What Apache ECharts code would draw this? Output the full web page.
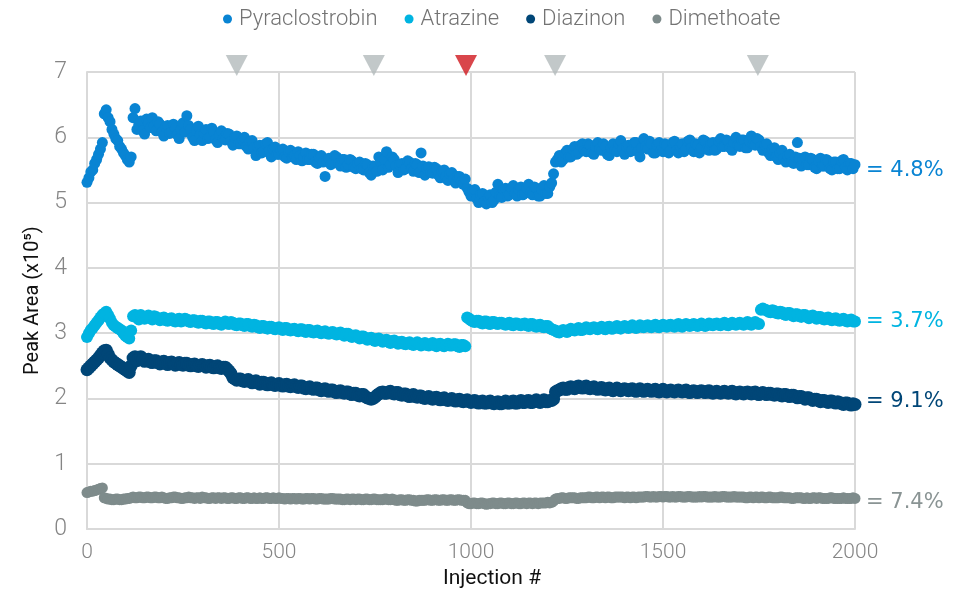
<!DOCTYPE html>
<html>
<head>
<meta charset="utf-8">
<script src="https://cdn.jsdelivr.net/npm/echarts@6/dist/echarts.min.js"></script>
<style>
  html, body { margin: 0; padding: 0; background: #ffffff; }
  #chart { width: 979px; height: 594px; }
</style>
</head>
<body>
<div id="chart"></div>
<script>
// Peak areas (x10^5), one reading every 5 injections, injection 0 .. 2000
const injectionStep = 5;

const pyraclostrobin = [
  5.31, 5.38, 5.47, 5.50, 5.60, 5.66, 5.74, 5.82, 5.92, 6.36, 6.42, 6.30, 6.24, 6.12, 6.05, 5.98, 5.95, 5.86, 5.82, 5.76,
  5.72, 5.66, 5.62, 5.70, 6.30, 6.44, 6.12, 6.20, 6.25, 6.10, 6.05, 6.28, 6.22, 6.15, 6.30, 6.18, 6.10, 6.24, 6.20, 6.08,
  6.02, 6.16, 6.18, 6.06, 6.08, 6.20, 6.14, 6.04, 5.98, 6.12, 6.22, 6.08, 6.33, 6.18, 6.12, 6.00, 5.95, 6.10, 6.17, 6.04,
  5.95, 6.06, 6.12, 5.98, 6.00, 6.14, 6.08, 5.96, 5.92, 6.04, 6.10, 5.98, 5.96, 6.06, 6.05, 5.94, 5.88, 6.00, 6.02, 5.90,
  5.90, 5.96, 6.00, 5.86, 5.82, 5.94, 5.95, 5.84, 5.72, 5.86, 5.88, 5.76, 5.78, 5.90, 5.92, 5.80, 5.70, 5.82, 5.85, 5.74,
  5.74, 5.80, 5.82, 5.70, 5.68, 5.78, 5.80, 5.70, 5.72, 5.66, 5.78, 5.72, 5.64, 5.70, 5.76, 5.66, 5.66, 5.74, 5.74, 5.62,
  5.60, 5.70, 5.72, 5.62, 5.40, 5.64, 5.68, 5.58, 5.62, 5.72, 5.70, 5.60, 5.56, 5.66, 5.66, 5.54, 5.58, 5.66, 5.64, 5.54,
  5.52, 5.60, 5.62, 5.52, 5.50, 5.60, 5.58, 5.46, 5.42, 5.56, 5.55, 5.48, 5.70, 5.62, 5.50, 5.66, 5.78, 5.54, 5.58, 5.70,
  5.66, 5.56, 5.46, 5.58, 5.60, 5.50, 5.52, 5.64, 5.62, 5.52, 5.48, 5.60, 5.58, 5.46, 5.76, 5.56, 5.42, 5.52, 5.55, 5.46,
  5.45, 5.54, 5.52, 5.42, 5.38, 5.48, 5.50, 5.40, 5.34, 5.44, 5.46, 5.36, 5.30, 5.40, 5.40, 5.32, 5.28, 5.36, 5.22, 5.16,
  5.10, 5.18, 5.20, 5.06, 5.00, 5.12, 5.14, 5.02, 4.98, 5.08, 5.12, 5.00, 5.04, 5.16, 5.28, 5.10, 5.08, 5.20, 5.22, 5.10,
  5.12, 5.22, 5.26, 5.14, 5.10, 5.20, 5.24, 5.12, 5.14, 5.22, 5.28, 5.16, 5.12, 5.24, 5.22, 5.10, 5.10, 5.20, 5.26, 5.14,
  5.14, 5.24, 5.30, 5.44, 5.62, 5.66, 5.72, 5.62, 5.66, 5.76, 5.80, 5.70, 5.70, 5.82, 5.86, 5.74, 5.76, 5.88, 5.90, 5.80,
  5.78, 5.90, 5.88, 5.76, 5.74, 5.86, 5.92, 5.82, 5.80, 5.90, 5.86, 5.74, 5.72, 5.84, 5.90, 5.80, 5.78, 5.90, 5.95, 5.82,
  5.74, 5.86, 5.88, 5.78, 5.80, 5.92, 5.92, 5.78, 5.70, 5.84, 5.98, 5.86, 5.82, 5.94, 5.90, 5.76, 5.76, 5.88, 5.92, 5.80,
  5.78, 5.90, 5.88, 5.76, 5.80, 5.92, 5.94, 5.80, 5.76, 5.86, 5.90, 5.78, 5.82, 5.94, 5.96, 5.84, 5.78, 5.90, 5.88, 5.76,
  5.84, 5.96, 5.94, 5.82, 5.80, 5.90, 5.92, 5.80, 5.82, 5.94, 5.98, 5.86, 5.86, 5.96, 5.94, 5.84, 5.80, 5.92, 6.00, 5.88,
  5.86, 5.96, 5.96, 5.84, 5.84, 5.94, 6.02, 5.90, 5.88, 5.98, 5.96, 5.86, 5.80, 5.88, 5.90, 5.76, 5.72, 5.82, 5.84, 5.70,
  5.66, 5.76, 5.80, 5.68, 5.62, 5.72, 5.74, 5.62, 5.60, 5.70, 5.92, 5.68, 5.56, 5.66, 5.70, 5.58, 5.58, 5.68, 5.66, 5.54,
  5.52, 5.64, 5.68, 5.56, 5.56, 5.66, 5.64, 5.52, 5.50, 5.62, 5.62, 5.52, 5.52, 5.64, 5.66, 5.54, 5.50, 5.60, 5.60, 5.52,
  5.58
];

const atrazine = [
  2.94, 3.00, 3.05, 3.08, 3.12, 3.16, 3.20, 3.24, 3.28, 3.30, 3.33, 3.28, 3.22, 3.16, 3.12, 3.10, 3.08, 3.06, 3.04, 3.00,
  2.96, 2.94, 2.92, 3.04, 3.26, 3.28, 3.24, 3.21, 3.28, 3.24, 3.22, 3.25, 3.27, 3.23, 3.21, 3.26, 3.25, 3.22, 3.20, 3.23,
  3.24, 3.20, 3.19, 3.22, 3.23, 3.19, 3.18, 3.21, 3.22, 3.18, 3.19, 3.22, 3.21, 3.18, 3.17, 3.20, 3.20, 3.17, 3.16, 3.19,
  3.19, 3.16, 3.15, 3.18, 3.18, 3.15, 3.14, 3.17, 3.17, 3.14, 3.13, 3.16, 3.18, 3.15, 3.14, 3.17, 3.16, 3.13, 3.12, 3.15,
  3.15, 3.12, 3.11, 3.14, 3.14, 3.11, 3.10, 3.13, 3.12, 3.09, 3.08, 3.11, 3.11, 3.08, 3.07, 3.10, 3.10, 3.07, 3.06, 3.08,
  3.09, 3.06, 3.05, 3.08, 3.08, 3.05, 3.04, 3.06, 3.07, 3.04, 3.03, 3.06, 3.06, 3.03, 3.02, 3.05, 3.05, 3.02, 3.01, 3.03,
  3.04, 3.01, 3.00, 3.02, 3.03, 3.00, 2.99, 3.01, 3.02, 2.99, 2.98, 3.00, 3.01, 2.98, 2.96, 2.99, 2.99, 2.96, 2.94, 2.96,
  2.97, 2.94, 2.92, 2.95, 2.95, 2.92, 2.90, 2.92, 2.93, 2.90, 2.88, 2.91, 2.92, 2.89, 2.87, 2.89, 2.90, 2.87, 2.85, 2.88,
  2.89, 2.86, 2.84, 2.86, 2.87, 2.84, 2.83, 2.85, 2.86, 2.83, 2.82, 2.84, 2.86, 2.83, 2.81, 2.83, 2.85, 2.82, 2.81, 2.83,
  2.85, 2.82, 2.80, 2.83, 2.84, 2.81, 2.80, 2.82, 2.84, 2.81, 2.81, 2.83, 2.83, 2.80, 2.79, 2.82, 2.82, 2.80, 3.24, 3.22,
  3.20, 3.18, 3.17, 3.19, 3.19, 3.16, 3.15, 3.18, 3.18, 3.15, 3.14, 3.17, 3.17, 3.15, 3.14, 3.16, 3.16, 3.14, 3.13, 3.15,
  3.16, 3.13, 3.12, 3.15, 3.15, 3.13, 3.12, 3.14, 3.15, 3.12, 3.11, 3.14, 3.14, 3.11, 3.10, 3.12, 3.13, 3.10, 3.09, 3.11,
  3.11, 3.08, 3.06, 3.05, 3.04, 3.02, 3.01, 3.03, 3.05, 3.03, 3.02, 3.05, 3.07, 3.05, 3.04, 3.06, 3.08, 3.05, 3.05, 3.07,
  3.09, 3.07, 3.06, 3.08, 3.09, 3.07, 3.06, 3.08, 3.10, 3.07, 3.06, 3.09, 3.10, 3.07, 3.07, 3.09, 3.11, 3.08, 3.07, 3.09,
  3.11, 3.09, 3.08, 3.10, 3.12, 3.09, 3.08, 3.10, 3.12, 3.10, 3.09, 3.11, 3.12, 3.10, 3.09, 3.11, 3.13, 3.10, 3.09, 3.11,
  3.13, 3.11, 3.10, 3.12, 3.13, 3.11, 3.10, 3.12, 3.14, 3.11, 3.10, 3.12, 3.14, 3.12, 3.11, 3.13, 3.14, 3.12, 3.11, 3.13,
  3.15, 3.12, 3.11, 3.13, 3.15, 3.13, 3.12, 3.14, 3.15, 3.13, 3.12, 3.14, 3.16, 3.13, 3.12, 3.14, 3.16, 3.14, 3.13, 3.15,
  3.16, 3.14, 3.13, 3.15, 3.17, 3.14, 3.13, 3.15, 3.17, 3.15, 3.14, 3.36, 3.38, 3.36, 3.35, 3.33, 3.32, 3.35, 3.34, 3.31,
  3.30, 3.33, 3.32, 3.29, 3.28, 3.31, 3.31, 3.28, 3.26, 3.29, 3.29, 3.26, 3.25, 3.28, 3.28, 3.25, 3.23, 3.26, 3.27, 3.24,
  3.22, 3.25, 3.25, 3.22, 3.21, 3.23, 3.24, 3.21, 3.20, 3.22, 3.23, 3.20, 3.19, 3.21, 3.22, 3.19, 3.18, 3.20, 3.21, 3.18,
  3.18
];

const diazinon = [
  2.44, 2.47, 2.50, 2.53, 2.56, 2.59, 2.62, 2.66, 2.70, 2.73, 2.74, 2.68, 2.62, 2.59, 2.56, 2.54, 2.52, 2.50, 2.48, 2.46,
  2.44, 2.42, 2.40, 2.50, 2.62, 2.64, 2.58, 2.61, 2.64, 2.60, 2.57, 2.59, 2.60, 2.56, 2.55, 2.58, 2.58, 2.55, 2.53, 2.56,
  2.57, 2.54, 2.52, 2.55, 2.56, 2.53, 2.51, 2.54, 2.55, 2.52, 2.51, 2.54, 2.54, 2.51, 2.50, 2.52, 2.53, 2.50, 2.49, 2.51,
  2.52, 2.50, 2.48, 2.50, 2.51, 2.48, 2.47, 2.49, 2.50, 2.47, 2.46, 2.48, 2.48, 2.45, 2.42, 2.38, 2.32, 2.30, 2.28, 2.30,
  2.30, 2.27, 2.26, 2.28, 2.29, 2.26, 2.24, 2.26, 2.27, 2.24, 2.22, 2.25, 2.25, 2.22, 2.21, 2.23, 2.24, 2.21, 2.20, 2.22,
  2.23, 2.20, 2.19, 2.21, 2.22, 2.19, 2.18, 2.20, 2.21, 2.18, 2.17, 2.19, 2.19, 2.16, 2.15, 2.17, 2.18, 2.15, 2.14, 2.16,
  2.16, 2.13, 2.12, 2.14, 2.15, 2.12, 2.11, 2.13, 2.13, 2.10, 2.09, 2.11, 2.12, 2.09, 2.08, 2.10, 2.10, 2.07, 2.06, 2.08,
  2.08, 2.05, 2.04, 2.06, 2.06, 2.03, 2.01, 2.00, 1.99, 2.00, 2.02, 2.05, 2.07, 2.09, 2.10, 2.08, 2.08, 2.10, 2.11, 2.08,
  2.07, 2.09, 2.09, 2.06, 2.05, 2.07, 2.07, 2.04, 2.03, 2.05, 2.06, 2.03, 2.02, 2.04, 2.04, 2.01, 2.00, 2.02, 2.03, 2.00,
  1.99, 2.01, 2.02, 1.99, 1.98, 2.00, 2.01, 1.98, 1.97, 1.99, 2.00, 1.97, 1.96, 1.98, 1.99, 1.96, 1.95, 1.97, 1.98, 1.95,
  1.94, 1.96, 1.97, 1.94, 1.93, 1.95, 1.96, 1.93, 1.93, 1.95, 1.96, 1.93, 1.92, 1.94, 1.95, 1.92, 1.92, 1.94, 1.96, 1.93,
  1.93, 1.95, 1.96, 1.93, 1.93, 1.95, 1.97, 1.94, 1.94, 1.96, 1.97, 1.94, 1.94, 1.96, 1.98, 1.95, 1.94, 1.96, 1.98, 1.95,
  1.95, 1.97, 1.97, 1.99, 2.10, 2.12, 2.13, 2.15, 2.16, 2.14, 2.14, 2.17, 2.18, 2.16, 2.15, 2.18, 2.19, 2.17, 2.16, 2.18,
  2.19, 2.16, 2.15, 2.17, 2.18, 2.15, 2.14, 2.16, 2.17, 2.14, 2.13, 2.15, 2.16, 2.13, 2.12, 2.14, 2.16, 2.13, 2.12, 2.14,
  2.15, 2.13, 2.12, 2.14, 2.15, 2.12, 2.11, 2.13, 2.15, 2.12, 2.11, 2.13, 2.14, 2.12, 2.11, 2.13, 2.14, 2.11, 2.10, 2.12,
  2.14, 2.11, 2.10, 2.12, 2.13, 2.11, 2.10, 2.12, 2.13, 2.11, 2.10, 2.12, 2.13, 2.10, 2.09, 2.11, 2.12, 2.10, 2.09, 2.11,
  2.12, 2.10, 2.09, 2.11, 2.12, 2.09, 2.08, 2.10, 2.11, 2.09, 2.08, 2.10, 2.11, 2.09, 2.08, 2.10, 2.11, 2.08, 2.07, 2.09,
  2.10, 2.08, 2.07, 2.09, 2.10, 2.08, 2.07, 2.09, 2.10, 2.07, 2.06, 2.08, 2.09, 2.07, 2.06, 2.08, 2.08, 2.06, 2.05, 2.07,
  2.07, 2.05, 2.04, 2.06, 2.06, 2.04, 2.03, 2.05, 2.05, 2.03, 2.01, 2.03, 2.03, 2.01, 1.99, 2.01, 2.01, 1.99, 1.97, 1.99,
  1.99, 1.97, 1.95, 1.97, 1.97, 1.95, 1.94, 1.96, 1.96, 1.94, 1.93, 1.95, 1.94, 1.92, 1.91, 1.93, 1.93, 1.91, 1.90, 1.92,
  1.91
];

const dimethoate = [
  0.56, 0.57, 0.58, 0.58, 0.59, 0.60, 0.61, 0.62, 0.63, 0.48, 0.47, 0.46, 0.46, 0.45, 0.45, 0.46, 0.46, 0.45, 0.45, 0.46,
  0.46, 0.47, 0.47, 0.48, 0.49, 0.48, 0.48, 0.49, 0.49, 0.48, 0.48, 0.49, 0.49, 0.48, 0.48, 0.49, 0.49, 0.48, 0.48, 0.49,
  0.48, 0.47, 0.47, 0.48, 0.48, 0.49, 0.49, 0.48, 0.48, 0.47, 0.47, 0.48, 0.48, 0.49, 0.48, 0.48, 0.47, 0.48, 0.48, 0.47,
  0.49, 0.48, 0.48, 0.47, 0.47, 0.48, 0.48, 0.47, 0.48, 0.48, 0.47, 0.48, 0.48, 0.47, 0.47, 0.48, 0.48, 0.47, 0.47, 0.48,
  0.48, 0.47, 0.47, 0.48, 0.48, 0.47, 0.47, 0.48, 0.47, 0.47, 0.48, 0.47, 0.47, 0.48, 0.48, 0.47, 0.47, 0.48, 0.47, 0.47,
  0.48, 0.47, 0.47, 0.46, 0.47, 0.47, 0.46, 0.47, 0.47, 0.46, 0.47, 0.47, 0.46, 0.46, 0.47, 0.47, 0.46, 0.47, 0.47, 0.46,
  0.46, 0.47, 0.47, 0.46, 0.46, 0.46, 0.46, 0.47, 0.47, 0.46, 0.46, 0.46, 0.46, 0.45, 0.45, 0.46, 0.46, 0.45, 0.46, 0.46,
  0.45, 0.46, 0.46, 0.45, 0.45, 0.46, 0.46, 0.45, 0.45, 0.46, 0.46, 0.45, 0.45, 0.45, 0.45, 0.46, 0.46, 0.45, 0.45, 0.46,
  0.45, 0.44, 0.44, 0.45, 0.45, 0.44, 0.44, 0.45, 0.45, 0.44, 0.44, 0.43, 0.43, 0.44, 0.44, 0.44, 0.44, 0.45, 0.45, 0.44,
  0.44, 0.45, 0.45, 0.44, 0.44, 0.45, 0.45, 0.44, 0.44, 0.45, 0.45, 0.44, 0.44, 0.45, 0.45, 0.44, 0.44, 0.44, 0.40, 0.39,
  0.39, 0.40, 0.40, 0.39, 0.39, 0.40, 0.40, 0.39, 0.38, 0.39, 0.39, 0.40, 0.40, 0.39, 0.39, 0.40, 0.40, 0.39, 0.39, 0.40,
  0.40, 0.39, 0.39, 0.40, 0.40, 0.39, 0.39, 0.40, 0.40, 0.39, 0.40, 0.40, 0.39, 0.40, 0.40, 0.39, 0.40, 0.40, 0.40, 0.40,
  0.41, 0.40, 0.41, 0.43, 0.46, 0.47, 0.47, 0.48, 0.48, 0.47, 0.47, 0.48, 0.48, 0.48, 0.48, 0.47, 0.47, 0.48, 0.48, 0.48,
  0.48, 0.49, 0.49, 0.48, 0.48, 0.49, 0.49, 0.48, 0.49, 0.49, 0.48, 0.49, 0.49, 0.48, 0.48, 0.49, 0.49, 0.49, 0.49, 0.49,
  0.48, 0.49, 0.49, 0.48, 0.49, 0.49, 0.48, 0.49, 0.49, 0.49, 0.49, 0.50, 0.50, 0.49, 0.49, 0.50, 0.49, 0.49, 0.50, 0.50,
  0.49, 0.50, 0.50, 0.49, 0.49, 0.50, 0.49, 0.49, 0.50, 0.50, 0.49, 0.49, 0.49, 0.50, 0.50, 0.49, 0.49, 0.49, 0.49, 0.50,
  0.49, 0.50, 0.50, 0.49, 0.49, 0.49, 0.49, 0.50, 0.49, 0.49, 0.49, 0.50, 0.50, 0.49, 0.49, 0.49, 0.49, 0.50, 0.49, 0.49,
  0.49, 0.49, 0.49, 0.48, 0.48, 0.49, 0.49, 0.48, 0.49, 0.49, 0.48, 0.49, 0.49, 0.48, 0.48, 0.49, 0.49, 0.48, 0.48, 0.48,
  0.48, 0.49, 0.49, 0.48, 0.48, 0.48, 0.48, 0.47, 0.47, 0.48, 0.48, 0.48, 0.48, 0.47, 0.47, 0.48, 0.47, 0.47, 0.48, 0.48,
  0.47, 0.48, 0.48, 0.47, 0.47, 0.47, 0.47, 0.48, 0.48, 0.47, 0.47, 0.47, 0.47, 0.47, 0.48, 0.47, 0.47, 0.47, 0.47, 0.48,
  0.47
];

const seriesNames = ['Pyraclostrobin', 'Atrazine', 'Diazinon', 'Dimethoate'];
const seriesValues = [pyraclostrobin, atrazine, diazinon, dimethoate];
const rsdLabels = ['= 4.8%', '= 3.7%', '= 9.1%', '= 7.4%'];

// Maintenance events along the run (injection #); the failure event is drawn red
const eventInjections = [390, 747, 987, 1219, 1747];
const eventFailure = [false, false, true, false, false];

const xTicks = [0, 500, 1000, 1500, 2000];
const yTicks = [0, 1, 2, 3, 4, 5, 6, 7];

// Styling
const colors = ['#0984d3', '#00b4e1', '#004677', '#7e8b8b'];
const labelColors = ['#0984d3', '#00b4e1', '#004677', '#8a9494'];
const dotSizes = [11, 12, 13, 11];
const gridColor = '#d9d9d9';
const tickColor = '#858585';
const fontFamily = 'Roboto, "Noto Sans", sans-serif';
const labelTop = [173, 324, 404, 505];

const chart = echarts.init(document.getElementById('chart'), null, { renderer: 'canvas' });

const scatterSeries = seriesNames.map((name, k) => ({
  name: name,
  type: 'scatter',
  symbol: 'circle',
  symbolSize: dotSizes[k],
  itemStyle: { color: colors[k], opacity: 1 },
  data: seriesValues[k].map((v, i) => [i * injectionStep, v]),
  silent: true,
  animation: false,
  large: false,
  z: 3
}));

const eventSeries = {
  name: 'events',
  type: 'scatter',
  symbol: 'triangle',
  symbolRotate: 180,
  symbolSize: [22, 21],
  clip: false,
  silent: true,
  animation: false,
  data: eventInjections.map((x, i) => ({
    value: [x, 7.1],
    itemStyle: { color: eventFailure[i] ? '#d0181e' : '#b3babb' }
  })),
  z: 5
};

const option = {
  backgroundColor: '#ffffff',
  animation: false,
  textStyle: { fontFamily: fontFamily },
  legend: {
    data: seriesNames.map(n => ({ name: n, icon: 'circle' })),
    left: 218,
    top: 3,
    itemWidth: 9,
    itemHeight: 9,
    itemGap: 27,
    textStyle: { color: '#737373', fontSize: 22, fontWeight: 300, fontFamily: fontFamily, padding: [0, 0, 0, 2] }
  },
  grid: { left: 87, right: 124, top: 72, bottom: 55, containLabel: false },
  xAxis: {
    type: 'value',
    min: xTicks[0],
    max: xTicks[xTicks.length - 1],
    interval: 500,
    name: 'Injection #',
    nameLocation: 'middle',
    nameGap: 31,
    nameTextStyle: { color: '#111111', fontSize: 21, fontWeight: 400, padding: [0, 0, 0, 42] },
    axisLine: { show: true, lineStyle: { color: gridColor, width: 2 } },
    axisTick: { show: false },
    axisLabel: { color: tickColor, fontSize: 21, fontWeight: 300, margin: 13, formatter: v => String(v) },
    splitLine: { show: true, lineStyle: { color: gridColor, width: 2 } }
  },
  yAxis: {
    type: 'value',
    min: yTicks[0],
    max: yTicks[yTicks.length - 1],
    interval: 1,
    name: 'Peak Area (x10\u2075)',
    nameLocation: 'middle',
    nameGap: 38,
    nameTextStyle: { color: '#111111', fontSize: 20, fontWeight: 400 },
    axisLine: { show: true, lineStyle: { color: gridColor, width: 2 } },
    axisTick: { show: false },
    axisLabel: { color: tickColor, fontSize: 23, fontWeight: 300, margin: 20 },
    splitLine: { show: true, lineStyle: { color: gridColor, width: 2 } }
  },
  graphic: rsdLabels.map((t, k) => ({
    type: 'text',
    left: 866,
    top: labelTop[k] - 13,
    silent: true,
    style: { text: t, fill: labelColors[k], font: '400 21px "DejaVu Sans", ' + fontFamily }
  })),
  series: scatterSeries.concat([eventSeries])
};

chart.setOption(option);
</script>
</body>
</html>
